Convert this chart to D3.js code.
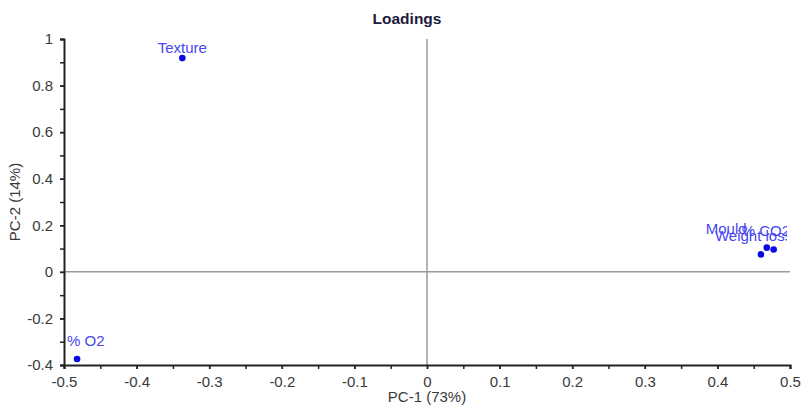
<!DOCTYPE html>
<html><head><meta charset="utf-8">
<script src="https://cdn.jsdelivr.net/npm/d3@7"></script>
<style>body{margin:0;background:#fff}svg{display:block}text{font-family:"Liberation Sans",Arial,sans-serif}</style>
</head><body>
<svg id="c" width="802" height="409"></svg>
<script>
// ---- data ----
const variables = ["Texture", "% O2", "Weight loss", "Mould", "% CO2"];
const pc1 = [-0.337, -0.482, 0.460, 0.468, 0.4775];
const pc2 = [0.918, -0.374, 0.075, 0.104, 0.096];
const xTicks = [-0.5, -0.4, -0.3, -0.2, -0.1, 0, 0.1, 0.2, 0.3, 0.4, 0.5];
const yTicks = [-0.4, -0.2, 0, 0.2, 0.4, 0.6, 0.8, 1];
const xTickLabels = ["-0.5", "-0.4", "-0.3", "-0.2", "-0.1", "0", "0.1", "0.2", "0.3", "0.4", "0.5"];
const yTickLabels = ["-0.4", "-0.2", "0", "0.2", "0.4", "0.6", "0.8", "1"];
const title = "Loadings";
const xTitle = "PC-1 (73%)";
const yTitle = "PC-2 (14%)";

// ---- layout ----
const L = 64, R = 790, T = 39, B = 365;
const labelNudge = {"Texture": [0, -5, "middle"], "% O2": [-10, -13, "start"],
  "Weight loss": [-46, -13, "start"], "Mould": [-61, -14, "start"], "% CO2": [-32, -14, "start"]};

const svg = d3.select("#c");
const x = d3.scaleLinear().domain([-0.5, 0.5]).range([L, R]);
const y = d3.scaleLinear().domain([-0.4, 1]).range([B, T]);
const fs = 15;

svg.append("defs").append("clipPath").attr("id", "clip")
  .append("rect").attr("x", L - 20).attr("y", T - 20).attr("width", R - L + 17).attr("height", B - T + 20);

// zero lines
svg.append("line").attr("x1", x(0)).attr("x2", x(0)).attr("y1", T).attr("y2", B)
  .attr("stroke", "#9a9a9a").attr("stroke-width", 1.5);
svg.append("line").attr("x1", L).attr("x2", R).attr("y1", y(0)).attr("y2", y(0))
  .attr("stroke", "#9a9a9a").attr("stroke-width", 1.5);

// axes
const fmtX = v => xTickLabels[xTicks.findIndex(t => Math.abs(t - v) < 1e-9)];
const fmtY = v => yTickLabels[yTicks.findIndex(t => Math.abs(t - v) < 1e-9)];
const xMinor = d3.range(-0.5, 0.5001, 0.05);
const yMinor = d3.range(-0.4, 1.0001, 0.1);

const gx = svg.append("g").attr("transform", `translate(0,${B})`);
gx.call(d3.axisBottom(x).tickValues(xMinor).tickSize(4).tickFormat(""));
gx.call(g => g.selectAll(".tick line").attr("stroke", "#222").attr("stroke-width", 1.5));
gx.select(".domain").attr("stroke", "#222").attr("stroke-width", 2);
const gx2 = svg.append("g").attr("transform", `translate(0,${B})`)
  .call(d3.axisBottom(x).tickValues(xTicks).tickSize(4).tickPadding(7).tickFormat(fmtX));
gx2.select(".domain").remove();
gx2.selectAll(".tick line").attr("stroke", "#222").attr("stroke-width", 1.5);
gx2.selectAll("text").attr("font-size", fs).attr("fill", "#3a3a3a").attr("font-family", "Liberation Sans, Arial");

const gy = svg.append("g").attr("transform", `translate(${L},0)`);
gy.call(d3.axisLeft(y).tickValues(yMinor).tickSize(4).tickFormat(""));
gy.selectAll(".tick line").attr("stroke", "#222").attr("stroke-width", 1.5);
gy.select(".domain").attr("stroke", "#222").attr("stroke-width", 2);
const gy2 = svg.append("g").attr("transform", `translate(${L},0)`)
  .call(d3.axisLeft(y).tickValues(yTicks).tickSize(4).tickPadding(7).tickFormat(fmtY));
gy2.select(".domain").remove();
gy2.selectAll(".tick line").attr("stroke", "#222").attr("stroke-width", 1.5);
gy2.selectAll("text").attr("font-size", fs).attr("fill", "#3a3a3a").attr("font-family", "Liberation Sans, Arial");

// titles
svg.append("text").attr("x", 407).attr("y", 24).attr("text-anchor", "middle")
  .attr("font-size", 15.5).attr("font-weight", "bold").attr("fill", "#1c1c3a").text(title);
svg.append("text").attr("x", x(0)).attr("y", 402).attr("text-anchor", "middle")
  .attr("font-size", fs).attr("fill", "#3a3a3a").text(xTitle);
svg.append("text").attr("transform", `translate(20,${(T + B) / 2}) rotate(-90)`).attr("text-anchor", "middle")
  .attr("font-size", fs).attr("fill", "#3a3a3a").text(yTitle);

// points
const pts = variables.map((v, i) => ({name: v, x: pc1[i], y: pc2[i]}));
svg.append("g").selectAll("circle").data(pts).join("circle")
  .attr("cx", d => x(d.x)).attr("cy", d => y(d.y)).attr("r", 3.3).attr("fill", "#0a0ae6");
svg.append("g").attr("clip-path", "url(#clip)").selectAll("text").data(pts).join("text")
  .attr("x", d => x(d.x) + labelNudge[d.name][0])
  .attr("y", d => y(d.y) + labelNudge[d.name][1])
  .attr("text-anchor", d => labelNudge[d.name][2])
  .attr("font-size", fs).attr("fill", "#4646f0").text(d => d.name);
</script>
</body></html>
